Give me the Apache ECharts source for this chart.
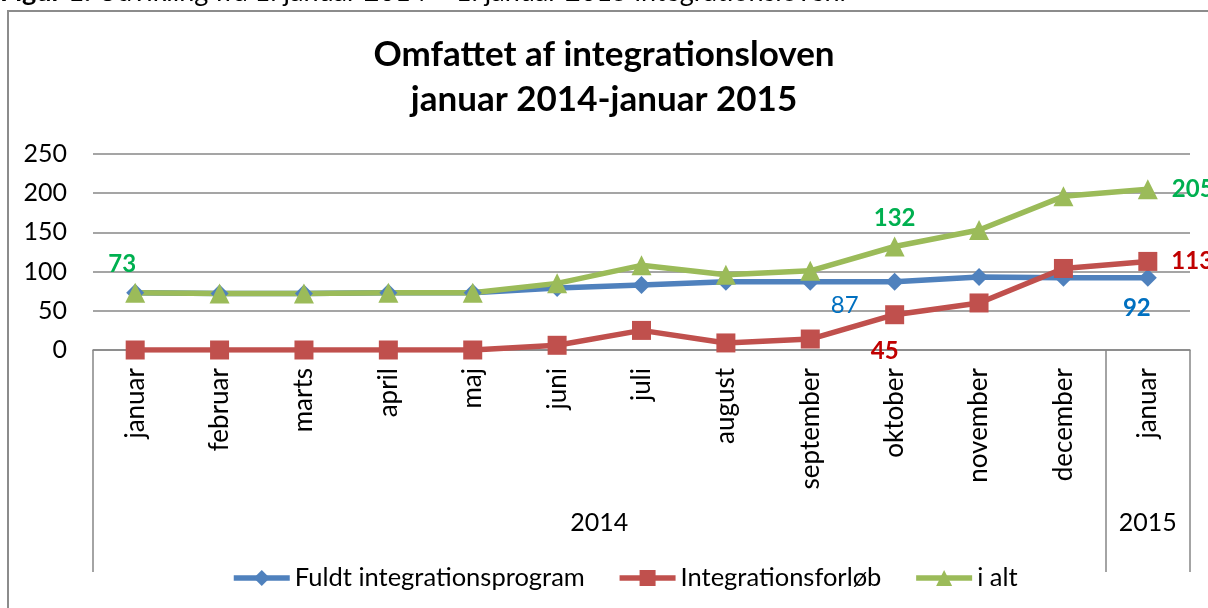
<!DOCTYPE html>
<html>
<head>
<meta charset="utf-8">
<script src="https://cdn.jsdelivr.net/npm/echarts@6/dist/echarts.min.js"></script>
<style>
  html, body { margin: 0; padding: 0; background: #fff; }
  #chart { width: 1208px; height: 608px; }
</style>
</head>
<body>
<div id="chart"></div>
<script>
// category axis: months, then the year grouping below them
const months = ['januar', 'februar', 'marts', 'april', 'maj', 'juni', 'juli',
  'august', 'september', 'oktober', 'november', 'december', 'januar']
const years = ['2014', '2015']
const yearCenters = [5.5, 12]        // where each year label sits (category index)
const yearBounds = [-0.5, 11.5, 12.5] // separators between year groups

const seriesNames = ['Fuldt integrationsprogram', 'Integrationsforløb', 'i alt']
const fuldt = [73, 72, 72, 73, 73, 79, 83, 87, 87, 87, 93, 92, 92]
const forloeb = [0, 0, 0, 0, 0, 6, 25, 9, 14, 45, 60, 104, 113]
const iAlt = [73, 72, 72, 73, 73, 85, 108, 96, 101, 132, 153, 196, 205]

const FONT = 'Lato, "Open Sans", sans-serif'
const GRID_GREY = '#878787'

// only a few points carry a data label in the original
const labelStyles = {
  fuldt: {
    9: { position: 'bottom', offset: [-50, -3], color: '#0070C0', fontWeight: 'normal' },
    12: { position: 'bottom', offset: [-11, 4], color: '#0070C0', fontWeight: 'bold' }
  },
  forloeb: {
    9: { position: 'bottom', offset: [-10, 10], color: '#C00000', fontWeight: 'bold' },
    12: { position: 'right', distance: 14, color: '#C00000', fontWeight: 'bold' }
  },
  iAlt: {
    0: { position: 'top', offset: [-13, -2], color: '#00B050', fontWeight: 'bold' },
    9: { position: 'top', distance: 6, color: '#00B050', fontWeight: 'bold' },
    12: { position: 'right', distance: 14, color: '#00B050', fontWeight: 'bold' }
  }
}

const withLabels = (values, styles) => values.map((v, i) => {
  if (!styles[i]) return v
  return { value: v, label: { show: true, fontSize: 24, fontFamily: FONT, ...styles[i] } }
})

const makeSeries = (name, values, styles, color, symbol, size) => ({
  name,
  type: 'line',
  data: withLabels(values, styles),
  symbol,
  symbolSize: size,
  lineStyle: { color, width: 5.5 },
  itemStyle: { color },
  label: { show: false },
  animation: false
})

const chart = echarts.init(document.getElementById('chart'))

chart.setOption({
  backgroundColor: '#fff',
  textStyle: { fontFamily: FONT },
  title: {
    text: 'Omfattet af integrationsloven\njanuar 2014-januar 2015',
    left: 'center',
    top: 27,
    padding: [5, 0, 5, 18],
    textStyle: { fontSize: 35, fontWeight: 'bold', color: '#000', lineHeight: 45, fontFamily: FONT }
  },
  graphic: [
    {
      type: 'rect',
      z: -1,
      shape: { x: 8, y: 11, width: 1230, height: 640 },
      style: { fill: 'none', stroke: '#8c8c8c', lineWidth: 2 }
    },
    {
      type: 'text',
      x: 0,
      y: -21,
      style: {
        text: '{b|Figur 1:} Udvikling fra 1. januar 2014 – 1. januar 2015 integrationsloven.',
        fontSize: 27,
        fontFamily: FONT,
        fill: '#000',
        rich: { b: { fontWeight: 'bold', fontSize: 27, fontFamily: FONT } }
      }
    }
  ],
  legend: {
    data: seriesNames,
    left: 226,
    top: 560,
    itemWidth: 56,
    itemHeight: 20,
    itemGap: 32,
    lineStyle: { width: 5.5 },
    textStyle: { fontSize: 25.5, color: '#000', fontFamily: FONT }
  },
  grid: { left: 93, right: 18, top: 154, bottom: 258 },
  xAxis: [
    {
      type: 'category',
      data: months,
      boundaryGap: true,
      axisLine: { lineStyle: { color: GRID_GREY, width: 1.5 } },
      axisTick: { show: false },
      axisLabel: { rotate: 90, margin: 18, fontSize: 26, color: '#000', interval: 0, fontFamily: FONT }
    },
    {
      type: 'value',
      min: -0.5,
      max: 12.5,
      position: 'bottom',
      offset: 222,
      axisLine: { show: false },
      splitLine: { show: false },
      axisTick: {
        show: true,
        customValues: yearBounds,
        inside: true,
        length: 222,
        lineStyle: { color: GRID_GREY, width: 1.5 }
      },
      axisLabel: {
        customValues: yearCenters,
        formatter: (v) => years[yearCenters.indexOf(v)],
        inside: true,
        margin: 37,
        fontSize: 25,
        color: '#000',
        fontFamily: FONT
      }
    }
  ],
  yAxis: {
    type: 'value',
    min: 0,
    max: 250,
    interval: 50,
    axisLine: { show: false },
    axisTick: { show: false },
    splitLine: { lineStyle: { color: GRID_GREY, width: 1.5 } },
    axisLabel: { fontSize: 25, color: '#000', margin: 26, fontFamily: FONT }
  },
  series: [
    makeSeries(seriesNames[0], fuldt, labelStyles.fuldt, '#4F81BD', 'diamond', 18),
    makeSeries(seriesNames[1], forloeb, labelStyles.forloeb, '#C0504D', 'rect', 19),
    makeSeries(seriesNames[2], iAlt, labelStyles.iAlt, '#9BBB59', 'triangle', 20)
  ]
})
</script>
</body>
</html>
